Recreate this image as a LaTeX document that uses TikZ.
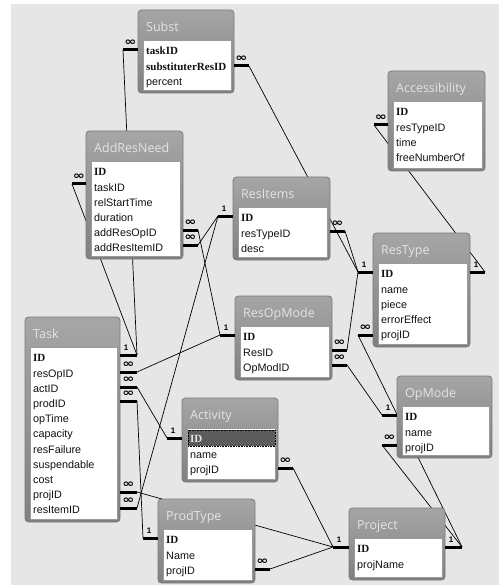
\documentclass[tikz,border=0pt]{standalone}
\usepackage{fontspec}
\setmainfont{Liberation Sans}
\newfontfamily\ttlfont{Open Sans}
\newfontfamily\keyfont{Liberation Serif}
\newfontfamily\symfont{DejaVu Sans}
\usetikzlibrary{fit}
\definecolor{bg}{HTML}{E6E6E6}
\definecolor{boxtop}{HTML}{A6A6A6}
\definecolor{boxbot}{HTML}{808080}
\definecolor{boxedge}{HTML}{7A7A7A}
\definecolor{ttltext}{HTML}{E4E4E4}
\definecolor{inedge}{HTML}{9A9A9A}
\definecolor{selrow}{HTML}{5C5C5C}
\definecolor{fldtext}{HTML}{111111}
\tikzset{
 tblbox/.style={draw=boxedge, line width=0.8pt, rounded corners=3.5pt, top color=boxtop, bottom color=boxbot, inner sep=0pt},
 inbox/.style={draw=inedge, fill=white, line width=0.8pt, inner sep=0pt},
 ttl/.style={anchor=west, inner sep=0pt, text height=8.9pt, text depth=0pt, text=ttltext, font=\ttlfont\fontsize{12.5}{14}\selectfont},
 fld/.style={anchor=west, inner sep=0pt, text height=7.9pt, text depth=0pt, text=fldtext, font=\fontsize{10.8}{12}\selectfont},
 keyfld/.style={fld, font=\keyfont\bfseries\fontsize{11}{12}\selectfont},
 rel/.style={draw=black, line width=0.7pt},
 stubbar/.style={draw=black, line width=3pt},
 one/.style={font=\bfseries\fontsize{8}{9}\selectfont, inner sep=0pt},
 many/.style={font=\symfont\bfseries\fontsize{10}{10}\selectfont, inner sep=0pt},
}
\newcommand\erbox[6]{%
 \node[tblbox, fit={(#2,#3) (#4,#5)}] (#1) {};
 \node[inbox, fit={(#2+5,#3+30) (#4-3,#5-3)}] (#1-in) {};
 \node[ttl] (#1-t) at (#2+8,#3+17) {#6};
}
\newcommand\erfields[6]{%
 \foreach \f [count=\i from 0] in {#4} {\node[keyfld] (#1-k\i) at (#2+8,#3+41+15.2*\i) {\f};}
 \foreach \f [count=\i from 0] in {#5} {\node[fld] (#1-f\i) at (#2+8,#3+41+15.2*\i+15.2*#6) {\f};}
}
\newcommand\stubone[4]{%
 \draw[stubbar] (#2,#4) -- (#3,#4);
 \node[one] (#1-lbl) at (#2+6,#4-7.5) {1};
}
\newcommand\stubmany[4]{%
 \draw[stubbar] (#2,#4) -- (#3,#4);
 \node[many] (#1-lbl) at ({(#2+#3)/2},#4-7.5) {\scalebox{1.45}[1.1]{∞}};
}
\begin{document}
\begin{tikzpicture}[x=1pt,y=-1pt]
\useasboundingbox (0,0) rectangle (499,585);
\fill[white] (0,0) rectangle (499,585);
\fill[bg] (11,4) rectangle (499,585);
% connector end points (outer ends of the stubs)
\coordinate (subst-task) at (123,50);
\coordinate (arn-task) at (72,184);
\coordinate (acc-rt) at (374,125);
\coordinate (ri-id) at (218,216);
\coordinate (rt-idL) at (358,272);
\coordinate (rt-proj) at (358,335);
\coordinate (rom-id) at (220,335);
\coordinate (act-id) at (167,438);
\coordinate (pt-id) at (143,538);
\coordinate (op-id) at (382,415);
\coordinate (op-proj) at (382,445);
\coordinate (proj-idL) at (333,547);
\coordinate (subst-res) at (249,66);
\coordinate (arn-op) at (198,230);
\coordinate (arn-item) at (198,245);
\coordinate (ri-rt) at (345,231);
\coordinate (rt-idR) at (485,272);
\coordinate (rom-res) at (347,350);
\coordinate (rom-op) at (347,365);
\coordinate (task-id) at (137,355);
\coordinate (task-resop) at (137,372);
\coordinate (task-act) at (137,387);
\coordinate (task-prod) at (137,401);
\coordinate (task-proj) at (137,492);
\coordinate (task-item) at (137,508);
\coordinate (act-proj) at (293,468);
\coordinate (pt-proj) at (270,569);
\coordinate (proj-idR) at (462,547);
% relationship lines
\draw[rel] (subst-task) -- (task-id);
\draw[rel] (subst-res) -- (rt-idL);
\draw[rel] (arn-task) -- (task-id);
\draw[rel] (arn-op) -- (rom-id);
\draw[rel] (arn-item) -- (ri-id);
\draw[rel] (acc-rt) -- (rt-idR);
\draw[rel] (ri-rt) -- (rt-idL);
\draw[rel] (rom-res) -- (rt-idL);
\draw[rel] (rom-op) -- (op-id);
\draw[rel] (rt-proj) -- (proj-idR);
\draw[rel] (task-resop) -- (rom-id);
\draw[rel] (task-act) -- (act-id);
\draw[rel] (task-prod) -- (pt-id);
\draw[rel] (task-proj) -- (proj-idL);
\draw[rel] (task-item) -- (ri-id);
\draw[rel] (act-proj) -- (proj-idL);
\draw[rel] (pt-proj) -- (proj-idL);
\draw[rel] (op-proj) -- (proj-idR);
% tables
\erbox{subst}{138}{10}{234}{93}{Subst}
\erfields{subst}{138}{10}{taskID,substituterResID}{percent}{2}
\erbox{acc}{388}{71}{485}{171}{Accessibility}
\erfields{acc}{388}{71}{ID}{resTypeID,time,freeNumberOf}{1}
\erbox{arn}{86}{131}{183}{259}{AddResNeed}
\erfields{arn}{86}{131}{ID}{taskID,relStartTime,duration,addResOpID,addResItemID}{1}
\erbox{ri}{233}{177}{330}{260}{ResItems}
\erfields{ri}{233}{177}{ID}{resTypeID,desc}{1}
\erbox{rt}{373}{233}{470}{347}{ResType}
\erfields{rt}{373}{233}{ID}{name,piece,errorEffect,projID}{1}
\erbox{rom}{235}{296}{332}{380}{ResOpMode}
\erfields{rom}{235}{296}{ID}{ResID,OpModID}{1}
\erbox{task}{25}{317}{120}{522}{Task}
\erfields{task}{25}{317}{ID}{resOpID,actID,prodID,opTime,capacity,resFailure,suspendable,cost,projID,resItemID}{1}
\erbox{act}{182}{398}{278}{482}{Activity}
\draw[fill=selrow, draw=black, densely dotted, line width=0.6pt] (188,430) rectangle (275,446);
\node[keyfld, text=ttltext] (act-k0) at (190,439) {ID};
\node[fld] (act-f0) at (190,454.2) {name};
\node[fld] (act-f1) at (190,469.4) {projID};
\erbox{op}{397}{376}{492}{458}{OpMode}
\erfields{op}{397}{376}{ID}{name,projID}{1}
\erbox{pt}{158}{499}{255}{583}{ProdType}
\erfields{pt}{158}{499}{ID}{Name,projID}{1}
\erbox{proj}{349}{508}{445}{580}{Project}
\erfields{proj}{349}{508}{ID}{projName}{1}
% stubs with cardinality labels
\stubmany{s1}{123}{138}{50}
\stubmany{s2}{72}{86}{184}
\stubmany{s3}{374}{388}{125}
\stubone{s4}{218}{233}{216}
\stubone{s5}{358}{373}{272}
\stubmany{s6}{358}{373}{335}
\stubone{s7}{220}{235}{335}
\stubone{s8}{167}{182}{438}
\stubone{s9}{143}{158}{538}
\stubone{s10}{382}{397}{415}
\stubmany{s11}{382}{397}{445}
\stubone{s12}{333}{349}{547}
\stubmany{s13}{234}{249}{66}
\stubmany{s14}{183}{198}{230}
\stubmany{s15}{183}{198}{245}
\stubmany{s16}{330}{345}{231}
\stubone{s17}{470}{485}{272}
\stubmany{s18}{332}{347}{350}
\stubmany{s19}{332}{347}{365}
\stubone{s20}{120}{137}{355}
\stubmany{s21}{120}{137}{372}
\stubmany{s22}{120}{137}{387}
\stubmany{s23}{120}{137}{401}
\stubmany{s24}{120}{137}{492}
\stubmany{s25}{120}{137}{508}
\stubmany{s26}{278}{293}{468}
\stubmany{s27}{255}{270}{569}
\stubone{s28}{445}{462}{547}
\end{tikzpicture}
\end{document}
